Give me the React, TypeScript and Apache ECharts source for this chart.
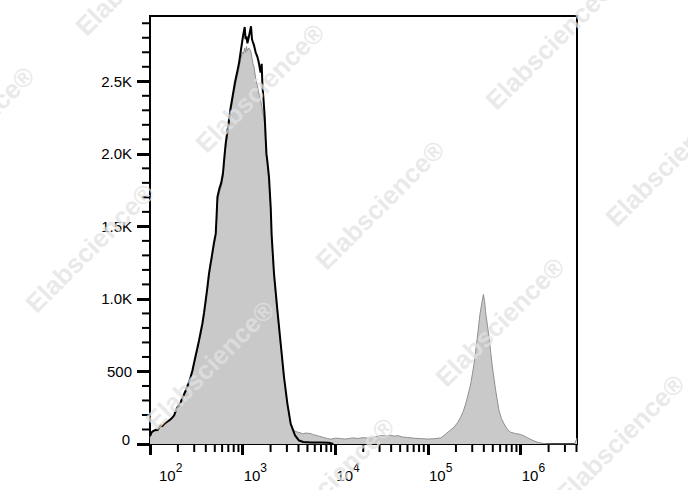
import React, { useEffect, useRef } from 'react';
import * as echarts from 'echarts';

// ---- data ----
const xMajorTicks = [100, 1000, 10000, 100000, 1000000];
const xMinorTicks = [
  200, 300, 400, 500, 600, 700, 800, 900,
  2000, 3000, 4000, 5000, 6000, 7000, 8000, 9000,
  20000, 30000, 40000, 50000, 60000, 70000, 80000, 90000,
  200000, 300000, 400000, 500000, 600000, 700000, 800000, 900000,
  2000000, 3000000, 4000000,
];
const yMajorTicks = [0, 500, 1000, 1500, 2000, 2500];
const yTickLabels = ['0', '500', '1.0K', '1.5K', '2.0K', '2.5K'];
const yMinorTicks = [
  100, 200, 300, 400, 600, 700, 800, 900, 1100, 1200, 1300, 1400,
  1600, 1700, 1800, 1900, 2100, 2200, 2300, 2400, 2600, 2700, 2800, 2900,
];

// control (black outline)
const controlHist: [number, number][] = [
  [100, 55], [104, 81], [109, 90], [115, 98], [121, 96], [126, 115], [130, 128], [136, 124],
  [142, 139], [150, 150], [160, 162], [170, 175], [182, 197], [190, 230], [198, 254], [206, 270],
  [214, 288], [228, 330], [243, 369], [253, 400], [264, 426], [275, 465], [287, 507], [299, 560],
  [311, 610], [324, 660], [338, 714], [352, 770], [367, 829], [383, 905], [399, 990], [416, 1080],
  [433, 1174], [448, 1235], [463, 1288], [488, 1380], [512, 1450], [522, 1560], [534, 1702],
  [560, 1760], [587, 1800], [613, 1866], [635, 1980], [656, 2072], [700, 2200], [743, 2321],
  [785, 2410], [827, 2495], [870, 2560], [912, 2624], [950, 2700], [993, 2783], [1020, 2830],
  [1052, 2874], [1075, 2790], [1100, 2810], [1125, 2762], [1160, 2800], [1195, 2840], [1230, 2879],
  [1260, 2790], [1290, 2770], [1325, 2748], [1380, 2700], [1442, 2668], [1480, 2640], [1520, 2600],
  [1560, 2560], [1604, 2620], [1633, 2472], [1680, 2370], [1729, 2254], [1803, 2003], [1860, 1930],
  [1923, 1840], [2006, 1633], [2055, 1438], [2178, 1174], [2370, 921], [2573, 691], [2793, 461],
  [3039, 277], [3299, 139], [3671, 59], [4057, 24], [4500, 14], [5500, 11], [7000, 10], [8500, 9],
  [9500, 0],
];

// sample (grey filled)
const sampleHist: [number, number][] = [
  [100, 45], [104, 75], [109, 84], [115, 92], [121, 90], [126, 108], [130, 120], [136, 118],
  [142, 132], [150, 143], [160, 155], [170, 168], [182, 190], [190, 222], [198, 246], [206, 262],
  [214, 280], [228, 320], [243, 358], [253, 390], [264, 415], [275, 452], [287, 495], [299, 545],
  [311, 595], [324, 645], [338, 698], [352, 752], [367, 810], [383, 885], [399, 968], [416, 1058],
  [433, 1150], [448, 1210], [463, 1262], [488, 1355], [512, 1425], [522, 1530], [534, 1670],
  [560, 1730], [587, 1775], [613, 1840], [635, 1950], [656, 2040], [700, 2170], [743, 2290],
  [785, 2380], [827, 2460], [870, 2530], [912, 2590], [950, 2650], [993, 2700], [1020, 2690],
  [1052, 2730], [1075, 2700], [1100, 2740], [1125, 2710], [1160, 2730], [1195, 2720], [1230, 2700],
  [1260, 2660], [1290, 2620], [1325, 2600], [1380, 2520], [1442, 2470], [1480, 2430], [1520, 2400],
  [1560, 2370], [1604, 2330], [1633, 2300], [1680, 2260], [1729, 2200], [1803, 1980], [1860, 1905],
  [1923, 1815], [2006, 1610], [2055, 1415], [2178, 1150], [2370, 900], [2573, 672], [2793, 448],
  [3039, 268], [3299, 136], [3500, 100], [3671, 88], [3900, 82], [4057, 80], [4300, 74], [4500, 70],
  [4800, 76], [5000, 74], [5420, 72], [5800, 64], [6200, 60], [6800, 52], [7480, 45], [8200, 38],
  [8910, 33], [10000, 40], [11400, 38], [12500, 34], [13500, 36], [15500, 42], [17400, 38],
  [20000, 44], [23000, 40], [25900, 47], [28000, 52], [30900, 58], [35000, 55], [39600, 60],
  [43000, 54], [47100, 58], [53000, 48], [60400, 45], [70000, 40], [80000, 38], [89800, 36],
  [100000, 34], [116000, 36], [137000, 42], [149000, 59], [170000, 90], [191000, 116], [210000, 150],
  [225000, 185], [240000, 225], [255000, 277], [272000, 345], [289000, 415], [314000, 553],
  [341000, 737], [364000, 898], [385000, 990], [396000, 1031], [408000, 980], [420000, 898],
  [437000, 820], [455000, 737], [475000, 630], [495000, 530], [537000, 369], [583000, 231],
  [620000, 175], [661000, 139], [720000, 100], [780000, 81], [880000, 72], [1000000, 66],
  [1090000, 55], [1182000, 43], [1350000, 25], [1515000, 12], [1700000, 5], [1942000, 1],
  [2200000, 0], [3800000, 0], [4050000, 40],
];

const FONT = '"Liberation Sans", Arial, Helvetica, sans-serif';

const watermarkCenters: [number, number][] = [
  [140, -29], [260, 88], [380, 205], [500, 322], [620, 439],
  [-30, 131], [90, 248], [210, 365], [330, 482],
  [550, 45], [670, 162],
];

export default function App() {
  const ref = useRef<HTMLDivElement>(null);

  useEffect(() => {
    if (!ref.current) return;
    const chart = echarts.init(ref.current, undefined, { renderer: 'svg' });

    const tickLine = (color: string, width: number) => ({ stroke: color, lineWidth: width });

    const option: any = {
      animation: false,
      backgroundColor: '#ffffff',
      grid: {
        left: 150,
        right: 111,
        top: 16,
        bottom: 46,
        show: true,
        borderColor: '#000',
        borderWidth: 2,
        backgroundColor: 'transparent',
      },
      xAxis: {
        type: 'log',
        logBase: 10,
        min: 100,
        max: 4050000,
        axisLine: { show: true, lineStyle: { color: '#000', width: 2 } },
        axisTick: {
          show: true,
          length: 11,
          lineStyle: { color: '#000', width: 3 },
          customValues: xMajorTicks,
        },
        axisLabel: {
          customValues: xMajorTicks,
          align: 'left',
          margin: 18,
          formatter: (v: number) => {
            const e = Math.round(Math.log10(v));
            return e === 2 ? `{b0|10}{s|${e}}` : `{b|10}{s|${e}}`;
          },
          rich: {
            b: { fontSize: 15, fontFamily: FONT, color: '#000', lineHeight: 26, verticalAlign: 'middle', padding: [0, 0, 0, 1] },
            b0: { fontSize: 15, fontFamily: FONT, color: '#000', lineHeight: 26, verticalAlign: 'middle', padding: [0, 0, 0, 9] },
            s: { fontSize: 12, fontFamily: FONT, color: '#000', lineHeight: 6, verticalAlign: 'top' },
          },
        },
        splitLine: { show: false },
      },
      yAxis: {
        type: 'value',
        min: 0,
        max: 2950,
        axisLine: { show: true, lineStyle: { color: '#000', width: 2 } },
        axisTick: {
          show: true,
          length: 13,
          lineStyle: { color: '#000', width: 3 },
          customValues: yMajorTicks,
        },
        axisLabel: {
          customValues: yMajorTicks,
          margin: 18,
          fontSize: 15,
          fontFamily: FONT,
          color: '#000',
          formatter: (v: number) => {
            const i = yMajorTicks.indexOf(v);
            const t = i >= 0 ? yTickLabels[i] : '';
            return v === 0 ? `{z|${t}}` : t;
          },
          rich: {
            z: { fontSize: 15, fontFamily: FONT, color: '#000', padding: [0, 2, 10, 0] },
          },
        },
        splitLine: { show: false },
      },
      graphic: watermarkCenters.map(([x, y]) => ({
        type: 'text',
        x,
        y,
        rotation: Math.PI / 4,
        z: 100,
        silent: true,
        style: {
          text: 'Elabscience®',
          fontSize: 26,
          fontWeight: 'bold',
          fontFamily: FONT,
          fill: 'rgb(226,226,226)',
          opacity: 0.75,
          align: 'center',
          verticalAlign: 'middle',
        },
      })),
      series: [
        {
          name: 'sample',
          type: 'line',
          data: sampleHist,
          symbol: 'none',
          showSymbol: false,
          lineStyle: { color: '#8f8f8f', width: 1 },
          areaStyle: { color: '#c9c9c9', opacity: 1 },
          z: 2,
        },
        {
          name: 'control',
          type: 'line',
          data: controlHist,
          symbol: 'none',
          showSymbol: false,
          lineStyle: { color: '#000', width: 2 },
          z: 3,
        },
        {
          name: 'xMinor',
          type: 'custom',
          silent: true,
          clip: false,
          z: 5,
          data: xMinorTicks.map((v) => [v, 0]),
          renderItem: (_p: any, api: any) => {
            const pt = api.coord([api.value(0), api.value(1)]);
            return {
              type: 'line',
              shape: { x1: pt[0], y1: pt[1] + 1, x2: pt[0], y2: pt[1] + 8 },
              style: tickLine('#000', 2),
            };
          },
        },
        {
          name: 'yMinor',
          type: 'custom',
          silent: true,
          clip: false,
          z: 5,
          data: yMinorTicks.map((v) => [100, v]),
          renderItem: (_p: any, api: any) => {
            const pt = api.coord([api.value(0), api.value(1)]);
            return {
              type: 'line',
              shape: { x1: pt[0] - 1, y1: pt[1], x2: pt[0] - 8, y2: pt[1] },
              style: tickLine('#000', 2),
            };
          },
        },
      ],
    };

    chart.setOption(option);
    return () => chart.dispose();
  }, []);

  return (
    <div
      ref={ref}
      style={{ position: 'fixed', left: 0, top: 0, width: 688, height: 490, background: '#fff' }}
    />
  );
}
